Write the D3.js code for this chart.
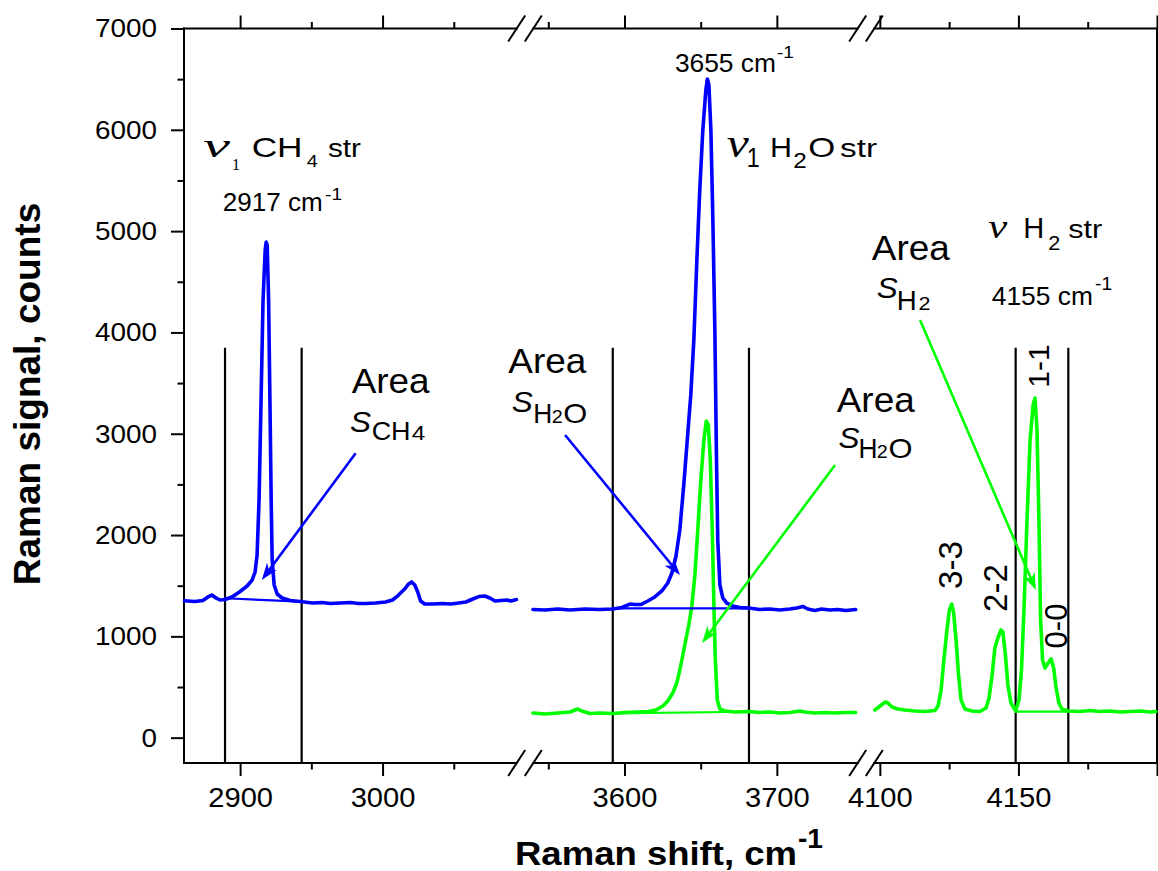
<!DOCTYPE html>
<html>
<head>
<meta charset="utf-8">
<script src="https://cdn.jsdelivr.net/npm/d3@7"></script>
<style>
  body { margin: 0; background: #fff; }
  svg { display: block; font-family: "Liberation Sans", Arial, sans-serif; }
</style>
</head>
<body>
<svg id="chart" width="1158" height="871"></svg>
<script>
// ---- data ----
// broken x axis: three windows of Raman shift (cm-1)
const segDomains = [[2860.6, 3100], [3534.7, 3758.5], [4095, 4200]]
const majorTicks = [[2900, 3000], [3600, 3700], [4100, 4150, 4200]]
const minorTicks = [[2950, 3050], [3550, 3650], [4125, 4175]]
const labelledTicks = [2900, 3000, 3600, 3700, 4100, 4150]
const yMajor = [0, 1000, 2000, 3000, 4000, 5000, 6000, 7000]
const yMinor = [500, 1500, 2500, 3500, 4500, 5500, 6500]

// CH4 window, blue spectrum
const ch4Shift = [2860.9, 2868.2, 2873.9, 2877.4, 2880.2, 2883.0, 2885.9, 2889.4, 2894.3, 2900.0, 2904.9, 2908.4, 2910.5, 2911.9, 2913.3, 2914.7, 2916.1, 2917.6, 2918.3, 2919.0, 2920.0, 2921.1, 2921.8, 2922.5, 2923.9, 2926.0, 2929.5, 2935.2, 2942.2, 2950.7, 2957.7, 2963.3, 2970.4, 2977.4, 2983.1, 2988.0, 2995.0, 3002.1, 3007.0, 3011.2, 3015.5, 3018.3, 3020.4, 3022.6, 3024.7, 3026.7, 3029.6, 3035.2, 3042.2, 3047.9, 3053.5, 3058.4, 3063.4, 3067.6, 3071.8, 3075.3, 3078.9, 3083.1, 3087.3, 3090.1, 3094.0]
const ch4Counts = [1352, 1344, 1354, 1389, 1408, 1379, 1359, 1364, 1389, 1443, 1497, 1556, 1635, 1803, 2346, 3333, 4320, 4814, 4893, 4863, 4320, 3136, 2346, 1754, 1507, 1418, 1379, 1354, 1344, 1329, 1334, 1324, 1329, 1334, 1324, 1324, 1329, 1339, 1359, 1408, 1467, 1517, 1537, 1507, 1438, 1349, 1319, 1319, 1324, 1319, 1329, 1339, 1369, 1393, 1398, 1379, 1349, 1354, 1359, 1349, 1364]

// H2O window, blue spectrum
const blueH2oShift = [3539.9, 3547.8, 3556.3, 3564.2, 3574.0, 3583.8, 3592.2, 3598.3, 3603.5, 3606.8, 3610.7, 3615.3, 3619.9, 3624.5, 3628.4, 3631.1, 3633.7, 3636.3, 3638.9, 3641.6, 3643.5, 3645.5, 3647.5, 3649.4, 3651.4, 3653.4, 3654.4, 3655.4, 3656.7, 3658.0, 3659.3, 3660.3, 3661.2, 3662.6, 3664.5, 3667.1, 3671.1, 3675.7, 3681.6, 3688.8, 3695.3, 3701.9, 3708.5, 3713.0, 3717.0, 3720.3, 3724.9, 3729.4, 3734.7, 3739.9, 3745.2, 3751.7]
const blueH2oCounts = [1265, 1260, 1270, 1260, 1270, 1265, 1270, 1285, 1319, 1314, 1314, 1349, 1389, 1448, 1527, 1625, 1783, 2050, 2494, 3017, 3383, 3925, 4715, 5406, 5998, 6393, 6502, 6442, 5998, 5110, 4024, 2840, 1951, 1507, 1379, 1329, 1300, 1285, 1280, 1265, 1270, 1260, 1270, 1280, 1295, 1270, 1255, 1270, 1260, 1265, 1255, 1265]

// H2O window, green spectrum
const greenH2oShift = [3539.9, 3547.8, 3556.3, 3564.2, 3569.4, 3572.0, 3577.3, 3583.8, 3592.2, 3600.2, 3608.8, 3615.3, 3620.6, 3625.2, 3628.4, 3631.7, 3634.3, 3636.3, 3638.3, 3640.2, 3642.2, 3644.2, 3646.2, 3648.1, 3650.1, 3652.1, 3653.7, 3655.0, 3656.3, 3657.6, 3658.6, 3659.6, 3660.9, 3662.6, 3665.9, 3672.4, 3681.6, 3688.8, 3695.3, 3701.9, 3708.5, 3715.0, 3718.3, 3724.9, 3731.4, 3738.0, 3744.5, 3751.7]
const greenH2oCounts = [244, 234, 244, 253, 283, 263, 239, 244, 239, 249, 253, 258, 273, 313, 362, 441, 540, 668, 816, 964, 1112, 1300, 1606, 2050, 2543, 2938, 3126, 3086, 2741, 2050, 1359, 767, 372, 283, 263, 253, 258, 249, 253, 244, 249, 263, 253, 244, 249, 244, 249, 249]

// H2 window, green spectrum
const h2Shift = [4098.2, 4100.1, 4101.9, 4102.9, 4104.4, 4106.5, 4109.1, 4112.7, 4116.3, 4119.9, 4121.0, 4122.1, 4123.1, 4124.2, 4125.1, 4125.9, 4126.6, 4127.5, 4128.4, 4129.3, 4130.7, 4133.2, 4136.1, 4138.3, 4139.4, 4140.5, 4141.5, 4142.6, 4143.7, 4144.4, 4145.3, 4146.2, 4147.3, 4149.0, 4150.2, 4151.1, 4152.0, 4153.1, 4154.2, 4155.3, 4156.0, 4156.7, 4157.4, 4158.0, 4158.7, 4159.6, 4160.7, 4161.8, 4162.7, 4163.6, 4164.6, 4165.7, 4168.0, 4172.2, 4175.8, 4179.4, 4183.0, 4186.7, 4190.3, 4193.9, 4197.5, 4199.6]
const h2Counts = [273, 313, 352, 342, 303, 283, 273, 263, 258, 268, 313, 471, 767, 1063, 1260, 1319, 1240, 964, 619, 372, 283, 263, 258, 293, 392, 619, 885, 984, 1063, 1043, 816, 520, 342, 263, 372, 668, 1260, 2149, 2938, 3284, 3353, 3037, 2149, 1162, 767, 688, 737, 777, 688, 490, 342, 283, 263, 258, 268, 258, 263, 253, 258, 263, 253, 258]

// integration windows (cm-1) and the straight baselines under each band (counts)
const windowLimits = [[2889.4, 2943.2], [3592.3, 3681.7], [4149.0, 4168.0]]
const windowTop = 3850
const blueCh4Base = [1376, 1342]
const blueH2oBase = [1277, 1277]
const greenH2oBase = [240, 256]
const greenH2Base = [258, 258]

// ---- layout ----
const segRanges = [[184, 525], [525, 866], [866, 1157]]
const breakAt = [525, 866]
const BLUE = '#0000ff'
const GREEN = '#00ff00'

const svg = d3.select('#chart')
const xs = segDomains.map((d, i) => d3.scaleLinear().domain(d).range(segRanges[i]))
const y = d3.scaleLinear().domain([-250, 7000]).range([763, 28.5])
const bottomY = y.range()[0]
const topY = y.range()[1]
const left = segRanges[0][0]
const right = segRanges[2][1]

function X (w) {
  for (const s of xs) {
    const [a, b] = s.domain()
    if (w >= a - 1e-6 && w <= b + 1e-6) return s(w)
  }
  return NaN
}

// ---- axes ----
function styleTicks (g, size, perChar) {
  g.select('.domain').remove()
  g.selectAll('.tick line').attr('stroke', '#000').attr('stroke-width', 2)
  g.selectAll('.tick text')
    .attr('fill', '#000')
    .attr('font-size', size)
    .attr('font-family', '"Liberation Sans", Arial, sans-serif')
    .each(function () {
      const s = d3.select(this).text()
      if (s) d3.select(this).attr('textLength', perChar * s.length).attr('lengthAdjust', 'spacingAndGlyphs')
    })
}

xs.forEach((sc, i) => {
  svg.append('g').attr('transform', `translate(0,${bottomY})`)
    .call(d3.axisBottom(sc).tickValues(majorTicks[i]).tickSize(13).tickPadding(11)
      .tickFormat(d => labelledTicks.includes(d) ? d : ''))
    .call(g => styleTicks(g, 28, 16.2))
  svg.append('g').attr('transform', `translate(0,${bottomY})`)
    .call(d3.axisBottom(sc).tickValues(minorTicks[i]).tickSize(6.5).tickFormat(''))
    .call(g => styleTicks(g, 28, 16))
  svg.append('g').attr('transform', `translate(0,${topY})`)
    .call(d3.axisTop(sc).tickValues(majorTicks[i]).tickSize(13).tickFormat(''))
    .call(g => styleTicks(g, 28, 16))
  svg.append('g').attr('transform', `translate(0,${topY})`)
    .call(d3.axisTop(sc).tickValues(minorTicks[i]).tickSize(6.5).tickFormat(''))
    .call(g => styleTicks(g, 28, 16))
})

svg.append('g').attr('transform', `translate(${left},0)`)
  .call(d3.axisLeft(y).tickValues(yMajor).tickSize(13).tickPadding(14).tickFormat(d3.format('d')))
  .call(g => styleTicks(g, 26, 15.5))
svg.append('g').attr('transform', `translate(${left},0)`)
  .call(d3.axisLeft(y).tickValues(yMinor).tickSize(6.5).tickFormat(''))
  .call(g => styleTicks(g, 26, 15.5))

// frame with gaps at the breaks
const frame = svg.append('g').attr('stroke', '#000').attr('stroke-width', 2).attr('fill', 'none')
  .attr('stroke-linecap', 'square')
frame.append('line').attr('x1', left).attr('x2', left).attr('y1', topY).attr('y2', bottomY)
frame.append('line').attr('x1', right).attr('x2', right).attr('y1', topY).attr('y2', bottomY)
const gapHalf = 8.3
const hParts = [[left, breakAt[0] - gapHalf], [breakAt[0] + gapHalf, breakAt[1] - gapHalf], [breakAt[1] + gapHalf, right]]
;[bottomY, topY].forEach(yy => {
  hParts.forEach(([a, b]) => frame.append('line').attr('x1', a).attr('x2', b).attr('y1', yy).attr('y2', yy))
  breakAt.forEach(cx => {
    [-gapHalf, gapHalf].forEach(o => {
      svg.append('line')
        .attr('x1', cx + o - 8.5).attr('y1', yy + 13)
        .attr('x2', cx + o + 8.5).attr('y2', yy - 13)
        .attr('stroke', '#000').attr('stroke-width', 2)
    })
  })
})

// ---- integration windows ----
windowLimits.flat().forEach(w => {
  svg.append('line')
    .attr('x1', X(w)).attr('x2', X(w))
    .attr('y1', y(windowTop)).attr('y2', bottomY)
    .attr('stroke', '#000').attr('stroke-width', 2.2)
})

// ---- spectra ----
const line = d3.line().x(d => X(d[0])).y(d => y(d[1]))
const plot = svg.append('g').attr('fill', 'none').attr('stroke-linejoin', 'round').attr('stroke-linecap', 'round')
const spectra = [
  [ch4Shift, ch4Counts, BLUE],
  [blueH2oShift, blueH2oCounts, BLUE],
  [greenH2oShift, greenH2oCounts, GREEN],
  [h2Shift, h2Counts, GREEN]
]
spectra.forEach(([sx, sy, c]) => {
  plot.append('path').datum(d3.zip(sx, sy)).attr('d', line)
    .attr('stroke', c).attr('stroke-width', 3.6)
})

// baselines under bands
const baselines = [
  [windowLimits[0], blueCh4Base, BLUE],
  [windowLimits[1], blueH2oBase, BLUE],
  [windowLimits[1], greenH2oBase, GREEN],
  [windowLimits[2], greenH2Base, GREEN]
]
baselines.forEach(([wl, b, c]) => {
  plot.append('path').datum(d3.zip(wl, b)).attr('d', line)
    .attr('stroke', c).attr('stroke-width', 2.2)
})

// ---- arrows ----
const arrows = [
  { from: [2981.1, 2807], to: [2915.2, 1556], c: BLUE },
  { from: [3561.0, 2988], to: [3636.4, 1606], c: BLUE },
  { from: [3738.2, 2691], to: [3650.9, 934], c: GREEN },
  { from: [4114.5, 4123], to: [4156.3, 1458], c: GREEN }
]
arrows.forEach(a => {
  const x0 = X(a.from[0]), y0 = y(a.from[1])
  const x1 = X(a.to[0]), y1 = y(a.to[1])
  const len = Math.hypot(x1 - x0, y1 - y0)
  const ux = (x1 - x0) / len, uy = (y1 - y0) / len
  const nx = -uy, ny = ux
  const L = 17, hw = 6
  svg.append('line')
    .attr('x1', x0).attr('y1', y0)
    .attr('x2', x1 - ux * L * 0.7).attr('y2', y1 - uy * L * 0.7)
    .attr('stroke', a.c).attr('stroke-width', 2.6)
  const bx = x1 - ux * L, by = y1 - uy * L
  const pts = [
    [x1, y1],
    [bx + nx * hw, by + ny * hw],
    [x1 - ux * L * 0.72, y1 - uy * L * 0.72],
    [bx - nx * hw, by - ny * hw]
  ]
  svg.append('polygon').attr('points', pts.map(p => p.join(',')).join(' ')).attr('fill', a.c)
})

// ---- text labels ----
const SERIF = '"Liberation Serif", "Times New Roman", serif'
function label (at, pieces) {
  const g = svg.append('g').attr('transform', `translate(${X(at[0])},${y(at[1])})`)
  pieces.forEach(p => {
    const t = g.append('text')
      .attr('x', p.dx || 0).attr('y', p.dy || 0)
      .attr('font-size', p.size).attr('fill', '#000')
      .text(p.t)
    if (p.len) t.attr('textLength', p.len).attr('lengthAdjust', 'spacingAndGlyphs')
    if (p.serif) t.attr('font-family', SERIF)
    if (p.italic) t.attr('font-style', 'italic')
  })
}

label([2873.9, 5731], [
  { t: 'ν', size: 34, serif: true, italic: true, len: 27 },
  { t: '1', dx: 29, dy: 13, size: 16, serif: true, len: 8 },
  { t: 'CH', dx: 48.7, size: 28, len: 51 },
  { t: '4', dx: 103.7, dy: 10, size: 16, len: 11 },
  { t: 'str', dx: 125, size: 26, len: 33 }
])
label([2887.8, 5199], [
  { t: '2917 cm', size: 25, len: 100 },
  { t: '-1', dx: 102.3, dy: -11, size: 17, len: 17 }
])
label([3633.1, 6574], [
  { t: '3655 cm', size: 25, len: 101 },
  { t: '-1', dx: 102, dy: -13.5, size: 17, len: 17 }
])
label([3667.1, 5735], [
  { t: 'ν', size: 40, serif: true, italic: true, len: 22 },
  { t: '1', dx: 20, dy: 10, size: 28, len: 13 },
  { t: 'H', dx: 43.3, size: 28, len: 22 },
  { t: '2', dx: 66.6, dy: 11.6, size: 22, len: 13.5 },
  { t: 'O', dx: 81.6, size: 28, len: 27 },
  { t: 'str', dx: 113.3, size: 26, len: 37 }
])
label([4139.1, 4929], [
  { t: 'ν', size: 34, serif: true, italic: true, len: 19 },
  { t: 'H', dx: 35, size: 30, len: 21 },
  { t: '2', dx: 60, dy: 11.7, size: 21, len: 12 },
  { t: 'str', dx: 80, size: 26, len: 34 }
])
label([4140.4, 4271], [
  { t: '4155 cm', size: 25, len: 101 },
  { t: '-1', dx: 103.3, dy: -15, size: 18, len: 17 }
])

// "Area S" callouts
const areaAt = [[2978.3, 3399], [3088.3, 3597], [3739.3, 3218], [4097.1, 4715]]
areaAt.forEach(a => label(a, [{ t: 'Area', size: 35, len: 78 }]))
label([2977.1, 3017], [
  { t: 'S', size: 30, italic: true, len: 21 },
  { t: 'CH', dx: 21.7, dy: 8, size: 26, len: 39 },
  { t: '4', dx: 61.7, dy: 8, size: 20, len: 13.5 }
])
const h2oSub = (dx, dy) => [
  { t: 'S', size: 30, italic: true, len: 21 },
  { t: 'H', dx: dx, dy: dy, size: 28, len: 19 },
  { t: '2', dx: dx + 18.4, dy: dy, size: 19, len: 11 },
  { t: 'O', dx: dx + 30, dy: dy, size: 28, len: 24 }
]
label([3090.7, 3215], h2oSub(21.6, 11))
label([3740.4, 2856], h2oSub(20, 10))
label([4098.9, 4337], [
  { t: 'S', size: 30, italic: true, len: 21 },
  { t: 'H', dx: 20, dy: 12, size: 28, len: 20 },
  { t: '2', dx: 41.6, dy: 12, size: 19, len: 12 }
])

// rotational band labels
const bandLabels = [['3-3', 4129.6, 1704, 33], ['2-2', 4145.8, 1477, 33], ['1-1', 4161.0, 3669, 30], ['0-0', 4167.5, 1102, 31]]
bandLabels.forEach(([t, w, c, s]) => {
  svg.append('text')
    .attr('transform', `translate(${X(w)},${y(c)}) rotate(-90)`)
    .attr('text-anchor', 'middle').attr('font-size', s).attr('fill', '#000')
    .text(t)
})

// axis titles
svg.append('text')
  .attr('transform', 'translate(40,394) rotate(-90)')
  .attr('text-anchor', 'middle').attr('font-size', 37).attr('font-weight', 'bold')
  .text('Raman signal, counts')
svg.append('text')
  .attr('x', 515).attr('y', 865)
  .attr('font-size', 33).attr('font-weight', 'bold')
  .attr('textLength', 282).attr('lengthAdjust', 'spacingAndGlyphs')
  .text('Raman shift, cm')
svg.append('text')
  .attr('x', 798).attr('y', 848)
  .attr('font-size', 28).attr('font-weight', 'bold')
  .attr('textLength', 25).attr('lengthAdjust', 'spacingAndGlyphs')
  .text('-1')
</script>
</body>
</html>
